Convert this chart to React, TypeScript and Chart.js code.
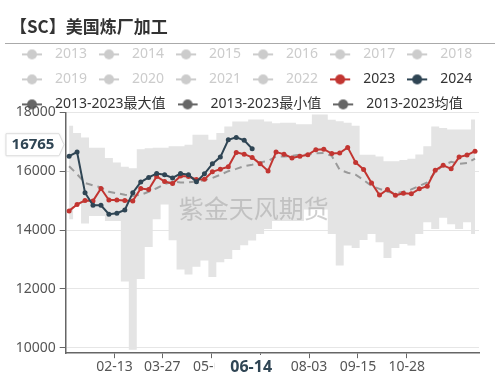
import React, { useEffect, useRef } from 'react';
import { Chart, registerables } from 'chart.js';

Chart.register(...registerables);

const titleText = '【SC】美国炼厂加工';
const watermarkText = '紫金天风期货';

const hiddenYears = ['2013', '2014', '2015', '2016', '2017', '2018', '2019', '2020', '2021', '2022'];

const weekDates = [
  '01-04', '01-11', '01-18', '01-25', '02-01', '02-08', '02-15', '02-22', '03-01', '03-08',
  '03-15', '03-22', '03-29', '04-05', '04-12', '04-19', '04-26', '05-03', '05-10', '05-17',
  '05-24', '05-31', '06-07', '06-14', '06-21', '06-28', '07-05', '07-12', '07-19', '07-26',
  '08-02', '08-09', '08-16', '08-23', '08-30', '09-06', '09-13', '09-20', '09-27', '10-04',
  '10-11', '10-18', '10-25', '11-01', '11-08', '11-15', '11-22', '11-29', '12-06', '12-13',
  '12-20', '12-27',
];

const xTickLabels = ['02-13', '03-27', '05-09', '06-21', '08-03', '09-15', '10-28'];
const yTickValues = [10000, 12000, 14000, 16000, 18000];

const data2023 = [
  14650, 14870, 15000, 14990, 15410, 15020, 15020, 15000, 14990, 15410,
  15380, 15820, 15650, 15580, 15840, 15820, 15720, 15730, 15980, 16070,
  16150, 16640, 16580, 16470, 16250, 16010, 16650, 16580, 16450, 16510,
  16560, 16730, 16750, 16600, 16620, 16810, 16300, 16060, 15600, 15190,
  15380, 15180, 15250, 15230, 15400, 15490, 16030, 16200, 16080, 16480,
  16550, 16680,
];

const data2024 = [
  16510, 16650, 15270, 14840, 14840, 14540, 14570, 14680, 15270, 15630,
  15790, 15920, 15880, 15770, 15920, 15880, 15640, 15910, 16250, 16480,
  17070, 17150, 17050, 16765,
];

const dataMax = [
  17550, 17300, 17150, 16800, 16800, 16450, 16300, 16150, 16100, 16750,
  16780, 16800, 16800, 16850, 16850, 16900, 17240, 17240, 17070, 17300,
  17520, 17690, 17690, 17760, 17760, 17690, 17630, 17650, 17650, 17600,
  17600, 17930, 17930, 17750, 17700, 17650, 17550, 16560, 16560, 16500,
  16340, 16340, 16380, 16420, 16570, 16850, 17520, 17470, 17420, 17420,
  17420, 17760,
];

const dataMin = [
  14370, 14870, 14220, 14480, 14480, 14310, 14310, 12250, 9930, 12330,
  13420, 14370, 14870, 13650, 12660, 12490, 12750, 12960, 12400, 12900,
  13010, 13320, 13480, 13640, 13860, 14030, 14310, 14310, 14310, 14310,
  14700, 14700, 14700, 13860, 12790, 13470, 13390, 13660, 13860, 13580,
  13050, 13390, 13520, 13470, 13860, 14260, 14030, 14420, 14200, 14030,
  14260, 13860,
];

const dataAvg = [
  16170, 15900, 15600, 15520, 15450, 15300, 15250, 15200, 15160, 15200,
  15300, 15420, 15560, 15640, 15620, 15620, 15650, 15700, 15770, 15880,
  16000, 16080, 16170, 16220, 16300, 16350, 16500, 16500, 16520, 16560,
  16570, 16610, 16620, 16520, 16050, 15950, 15880, 15700, 15500, 15400,
  15300, 15250, 15300, 15380, 15500, 15620, 15970, 16200, 16320, 16250,
  16280, 16430,
];

const MONTH_START = [0, 31, 59, 90, 120, 151, 181, 212, 243, 273, 304, 334];
const dayOfYear = (mmdd: string) => MONTH_START[+mmdd.slice(0, 2) - 1] + +mmdd.slice(3) - 1;
const toPoints = (vals: number[]) => vals.map((v, i) => ({ x: dayOfYear(weekDates[i]), y: v }));

const RED = '#c23531';
const NAVY = '#2f4554';
const GREY_ICON = '#666666';
const DISABLED = '#cccccc';
const BAND = '#e4e4e4';
const FONT = '"Noto Sans", "Noto Sans CJK SC", sans-serif';
const CJK = '"Noto Sans CJK SC", "Noto Sans", sans-serif';

function makeIcon(color: string) {
  const c = document.createElement('canvas');
  c.width = 25;
  c.height = 12;
  const g = c.getContext('2d')!;
  g.strokeStyle = color;
  g.lineWidth = 2;
  g.beginPath();
  g.moveTo(0, 6);
  g.lineTo(20, 6);
  g.stroke();
  g.fillStyle = color;
  g.beginPath();
  g.arc(10, 6, 5, 0, Math.PI * 2);
  g.fill();
  return c;
}

const decorPlugin = {
  id: 'decor',
  beforeDraw(chart: any) {
    const ctx = chart.ctx;
    ctx.save();
    ctx.fillStyle = '#ffffff';
    ctx.fillRect(0, 0, chart.width, chart.height);
    ctx.restore();
  },
  afterDatasetsDraw(chart: any) {
    const ctx = chart.ctx;
    const ca = chart.chartArea;
    ctx.save();
    ctx.font = `25px ${CJK}`;
    ctx.fillStyle = 'rgba(150,150,150,0.45)';
    ctx.textAlign = 'center';
    ctx.textBaseline = 'middle';
    ctx.fillText(watermarkText, ca.left + 188, ca.top + 96);
    ctx.restore();
  },
  afterDraw(chart: any) {
    const ctx = chart.ctx;
    const xs = chart.scales.x;
    const ys = chart.scales.y;
    ctx.save();
    // divider under title
    ctx.strokeStyle = '#aaaaaa';
    ctx.lineWidth = 1;
    ctx.beginPath();
    ctx.moveTo(5, 43.5);
    ctx.lineTo(chart.width, 43.5);
    ctx.stroke();

    // y pointer label
    const lastIdx = data2024.length - 1;
    const lastVal = data2024[lastIdx];
    const yc = ys.getPixelForValue(lastVal) - 4;
    ctx.shadowColor = 'rgba(0,0,0,0.12)';
    ctx.shadowBlur = 3;
    ctx.beginPath();
    ctx.moveTo(6, yc - 11);
    ctx.lineTo(59, yc - 11);
    ctx.lineTo(64, yc);
    ctx.lineTo(59, yc + 11);
    ctx.lineTo(6, yc + 11);
    ctx.closePath();
    ctx.fillStyle = '#ffffff';
    ctx.fill();
    ctx.shadowBlur = 0;
    ctx.shadowColor = 'transparent';
    ctx.strokeStyle = '#dddddd';
    ctx.stroke();
    ctx.fillStyle = NAVY;
    ctx.font = `bold 15px ${FONT}`;
    ctx.textAlign = 'center';
    ctx.textBaseline = 'middle';
    ctx.fillText(String(lastVal), 33, yc + 0.5);

    // x pointer label
    const xc = xs.getPixelForValue(dayOfYear(weekDates[lastIdx]));
    ctx.fillStyle = '#ffffff';
    ctx.fillRect(xc - 38, xs.bottom - 20, 76, 22);
    ctx.fillStyle = NAVY;
    ctx.font = `bold 16px ${FONT}`;
    ctx.fillText(weekDates[lastIdx], xc - 1, 367);
    ctx.restore();
  },
};

export default function App() {
  const ref = useRef<HTMLCanvasElement | null>(null);

  useEffect(() => {
    if (!ref.current) return;
    const lineBase = { pointRadius: 2.5, pointBorderWidth: 0, borderWidth: 2, tension: 0 };
    const datasets: any[] = [
      ...hiddenYears.map((y) => ({ label: y, data: [], hidden: true, iconColor: DISABLED, textColor: DISABLED })),
      {
        label: '2023', data: toPoints(data2023), borderColor: RED, backgroundColor: RED,
        pointBackgroundColor: RED, order: 2, iconColor: RED, ...lineBase,
      },
      {
        label: '2024', data: toPoints(data2024), borderColor: NAVY, backgroundColor: NAVY,
        pointBackgroundColor: NAVY, order: 1, iconColor: NAVY, ...lineBase,
      },
      {
        label: '2013-2023最大值', data: toPoints(dataMax), stepped: 'middle', borderWidth: 0,
        borderColor: 'transparent', pointRadius: 0, backgroundColor: BAND, fill: '+1', order: 10, iconColor: GREY_ICON,
      },
      {
        label: '2013-2023最小值', data: toPoints(dataMin), stepped: 'middle', borderWidth: 0,
        borderColor: 'transparent', pointRadius: 0, backgroundColor: BAND, fill: false, order: 10, iconColor: GREY_ICON,
      },
      {
        label: '2013-2023均值', data: toPoints(dataAvg), borderColor: '#9a9a9a', borderDash: [7, 5],
        borderWidth: 2, pointRadius: 0, fill: false, order: 5, iconColor: GREY_ICON,
      },
    ];
    const icons = datasets.map((d) => makeIcon(d.iconColor));
    const labelByDay = new Map<number, string>(xTickLabels.map((l) => [dayOfYear(l), l]));

    const chart = new Chart(ref.current, {
      type: 'line',
      data: { datasets },
      options: {
        animation: false,
        responsive: false,
        devicePixelRatio: 1,
        events: [],
        layout: { padding: { left: 10, right: 0, top: 0, bottom: 3 } },
        plugins: {
          tooltip: { enabled: false },
          title: {
            display: true,
            text: titleText,
            align: 'start',
            color: '#333333',
            font: { size: 17, weight: 'bold', family: CJK },
            padding: { top: 16, bottom: 0 },
          },
          legend: {
            display: true,
            position: 'top',
            align: 'start',
            maxHeight: 76,
            labels: {
              usePointStyle: true,
              pointStyleWidth: 27,
              boxHeight: 12,
              padding: 11,
              font: { size: 14, family: FONT },
              generateLabels: (ch: any) =>
                ch.data.datasets.map((ds: any, i: number) => ({
                  text: ds.label,
                  fillStyle: 'transparent',
                  strokeStyle: 'transparent',
                  lineWidth: 0,
                  hidden: false,
                  pointStyle: icons[i],
                  fontColor: ds.textColor || '#333333',
                  datasetIndex: i,
                })),
            },
          },
        },
        scales: {
          x: {
            type: 'linear',
            min: 0,
            max: 363.5,
            afterBuildTicks: (s: any) => {
              s.ticks = xTickLabels.map((l) => ({ value: dayOfYear(l) }));
            },
            afterFit: (s: any) => {
              s.paddingRight = 16;
            },
            ticks: {
              autoSkip: false,
              maxRotation: 0,
              padding: 0,
              color: '#555555',
              font: { size: 14, family: FONT },
              callback: (v: any) => labelByDay.get(Number(v)) ?? '',
            },
            grid: { drawOnChartArea: false, drawTicks: true, tickLength: 5, tickColor: '#666666' },
            border: { display: true, color: '#666666', width: 1.5 },
          },
          y: {
            type: 'linear',
            min: 9810,
            max: 18000,
            afterBuildTicks: (s: any) => {
              s.ticks = yTickValues.map((v) => ({ value: v }));
            },
            afterFit: (s: any) => {
              s.width = 55.7;
            },
            ticks: {
              padding: 4,
              color: '#555555',
              font: { size: 14, family: FONT },
              callback: (v: any) => String(v),
            },
            grid: { color: '#e6e6e6', drawTicks: true, tickLength: 6, tickColor: '#666666' },
            border: { display: true, color: '#666666', width: 1.5 },
          },
        },
      } as any,
      plugins: [decorPlugin],
    });
    return () => chart.destroy();
  }, []);

  return (
    <div style={{ position: 'fixed', left: 0, top: 0, width: 495, height: 378, background: '#ffffff' }}>
      <canvas ref={ref} width={495} height={378} style={{ display: 'block' }} />
    </div>
  );
}
